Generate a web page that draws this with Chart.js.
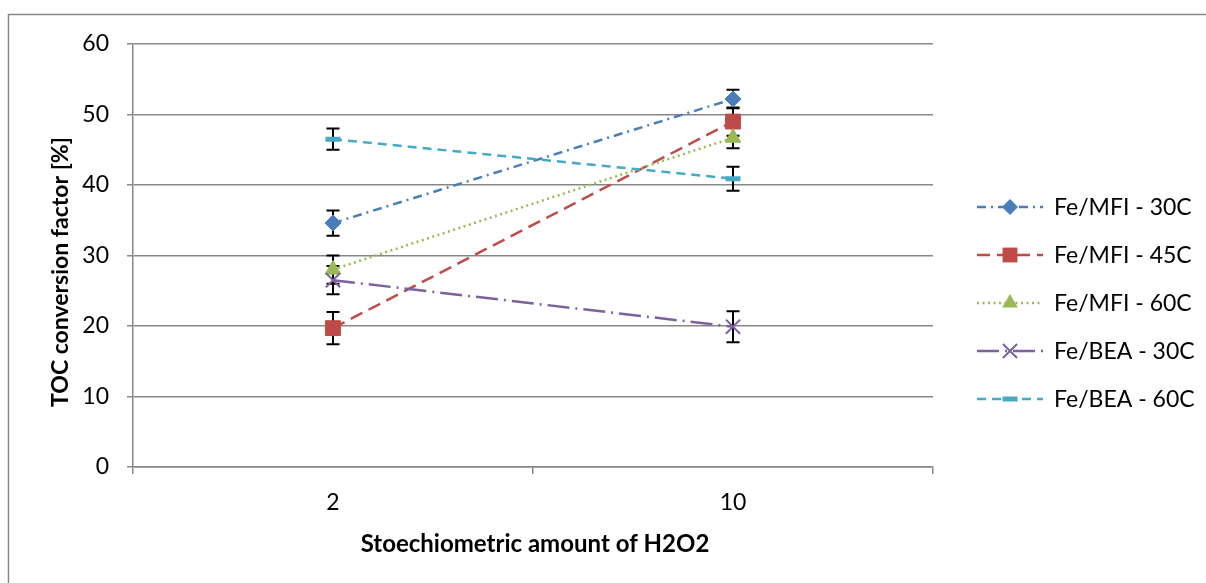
<!DOCTYPE html>
<html>
<head>
<meta charset="utf-8">
<title>TOC conversion</title>
<script src="https://cdn.jsdelivr.net/npm/chart.js@4/dist/chart.umd.min.js"></script>
<style>
  html, body { margin: 0; padding: 0; background: #fff; }
  .c-chart { position: relative; width: 1206px; height: 583px; }
</style>
</head>
<body>
<div class="c-chart"><canvas id="myChart" width="1206" height="583"></canvas></div>
<script>
'use strict';

const categories = ['2', '10'];
const seriesNames = ['Fe/MFI - 30C', 'Fe/MFI - 45C', 'Fe/MFI - 60C', 'Fe/BEA - 30C', 'Fe/BEA - 60C'];
const mfi30 = [34.6, 52.2];
const mfi45 = [19.7, 49.0];
const mfi60 = [28.0, 46.7];
const bea30 = [26.5, 19.9];
const bea60 = [46.5, 40.9];
const mfi30Err = [1.8, 1.3];
const mfi45Err = [2.3, 2.0];
const mfi60Err = [2.0, 1.5];
const bea30Err = [2.0, 2.2];
const bea60Err = [1.5, 1.7];
const yTicks = [0, 10, 20, 30, 40, 50, 60];

const fontFamily = 'Lato, "DejaVu Sans", sans-serif';
const gridGrey = '#878787';

const styles = [
  { color: '#4a7ebb', dash: [9, 5, 2, 5], point: 'rectRot', radius: 8, pointWidth: 1 },
  { color: '#be4b48', dash: [13, 7], point: 'rect', radius: 10.5, pointWidth: 1 },
  { color: '#98b954', dash: [2, 3.5], point: 'triangle', radius: 9, pointWidth: 1 },
  { color: '#7d60a0', dash: [22, 6, 2, 6], point: 'crossRot', radius: 10, pointWidth: 2 },
  { color: '#46aac5', dash: [9, 6], point: 'line', radius: 7.5, pointWidth: 5 }
];

// error bars: black whisker with caps, drawn under the lines and markers
const errorBars = {
  id: 'errorBars',
  beforeDatasetsDraw: function(chart) {
    const ctx = chart.ctx;
    const yScale = chart.scales.y;
    ctx.save();
    ctx.strokeStyle = '#000';
    ctx.lineWidth = 2;
    ctx.setLineDash([]);
    chart.data.datasets.forEach(function(ds, i) {
      const meta = chart.getDatasetMeta(i);
      meta.data.forEach(function(pt, j) {
        const v = ds.data[j];
        const e = ds.errors[j];
        const top = yScale.getPixelForValue(v + e);
        const bottom = yScale.getPixelForValue(v - e);
        ctx.beginPath();
        ctx.moveTo(pt.x, top);
        ctx.lineTo(pt.x, bottom);
        ctx.moveTo(pt.x - 6.5, top);
        ctx.lineTo(pt.x + 6.5, top);
        ctx.moveTo(pt.x - 6.5, bottom);
        ctx.lineTo(pt.x + 6.5, bottom);
        ctx.stroke();
      });
    });
    ctx.restore();
  }
};

const drawMarker = function(ctx, style, x, y) {
  const r = style.radius;
  ctx.save();
  ctx.setLineDash([]);
  ctx.fillStyle = style.color;
  ctx.strokeStyle = style.color;
  ctx.lineWidth = style.pointWidth;
  ctx.beginPath();
  if (style.point === 'rectRot') {
    ctx.moveTo(x, y - r);
    ctx.lineTo(x + r, y);
    ctx.lineTo(x, y + r);
    ctx.lineTo(x - r, y);
    ctx.closePath();
    ctx.fill();
  } else if (style.point === 'rect') {
    const s = r * Math.SQRT1_2;
    ctx.rect(x - s, y - s, 2 * s, 2 * s);
    ctx.fill();
  } else if (style.point === 'triangle') {
    ctx.moveTo(x, y - r);
    ctx.lineTo(x + r * 0.866, y + r * 0.5);
    ctx.lineTo(x - r * 0.866, y + r * 0.5);
    ctx.closePath();
    ctx.fill();
  } else if (style.point === 'crossRot') {
    const s = r * Math.SQRT1_2;
    ctx.moveTo(x - s, y - s);
    ctx.lineTo(x + s, y + s);
    ctx.moveTo(x - s, y + s);
    ctx.lineTo(x + s, y - s);
    ctx.stroke();
  } else {
    ctx.moveTo(x - r, y);
    ctx.lineTo(x + r, y);
    ctx.stroke();
  }
  ctx.restore();
};

// outer frame, legend on the right and both axis titles
const decorations = {
  id: 'decorations',
  beforeDraw: function(chart) {
    const ctx = chart.ctx;
    ctx.save();
    ctx.fillStyle = '#fff';
    ctx.fillRect(0, 0, chart.width, chart.height);
    ctx.strokeStyle = gridGrey;
    ctx.lineWidth = 1.5;
    ctx.strokeRect(8.5, 14.5, 1400, 800);
    ctx.restore();
  },
  afterDraw: function(chart) {
    const ctx = chart.ctx;
    ctx.save();
    chart.data.datasets.forEach(function(ds, i) {
      const style = styles[i];
      const y = 207 + i * 48;
      ctx.strokeStyle = style.color;
      ctx.lineWidth = 2.5;
      ctx.setLineDash(style.dash);
      ctx.beginPath();
      ctx.moveTo(977, y);
      ctx.lineTo(1043, y);
      ctx.stroke();
      drawMarker(ctx, style, 1010, y);
      ctx.setLineDash([]);
      ctx.fillStyle = '#000';
      ctx.font = `23px ${fontFamily}`;
      ctx.textAlign = 'left';
      ctx.textBaseline = 'middle';
      ctx.fillText(ds.label, 1054, y + 1);
    });

    ctx.textAlign = 'center';
    ctx.textBaseline = 'middle';
    ctx.fillStyle = '#000';
    ctx.font = `bold 24px ${fontFamily}`;
    ctx.fillText('Stoechiometric amount of H2O2', 535, 544);

    ctx.font = `bold 23px ${fontFamily}`;
    ctx.translate(61, 272);
    ctx.rotate(-Math.PI / 2);
    ctx.fillText('TOC conversion factor [%]', 0, 0);
    ctx.restore();
  }
};

const init = function() {
  displayChart();
};

const displayChart = function() {
  const values = [mfi30, mfi45, mfi60, bea30, bea60];
  const errors = [mfi30Err, mfi45Err, mfi60Err, bea30Err, bea60Err];
  const datasets = values.map(function(data, i) {
    const s = styles[i];
    return {
      label: seriesNames[i],
      data: data,
      errors: errors[i],
      order: values.length - i,
      borderColor: s.color,
      backgroundColor: s.color,
      borderWidth: 2.5,
      borderDash: s.dash,
      pointStyle: s.point,
      pointRadius: s.radius,
      pointHoverRadius: s.radius,
      pointBorderWidth: s.pointWidth,
      pointBorderColor: s.color,
      pointBackgroundColor: s.color,
      tension: 0,
      fill: false
    };
  });

  const ctx = document.getElementById('myChart');
  new Chart(ctx, {
    type: 'line',
    data: { labels: categories, datasets: datasets },
    options: {
      responsive: false,
      animation: false,
      events: [],
      layout: { padding: { top: 44, right: 273, left: 0, bottom: 0 } },
      plugins: {
        legend: { display: false },
        tooltip: { enabled: false },
        title: { display: false }
      },
      scales: {
        x: {
          offset: true,
          grid: { offset: true, drawOnChartArea: false, color: gridGrey, lineWidth: 1.5, tickLength: 7 },
          border: { color: gridGrey, width: 1.5 },
          ticks: { color: '#000', padding: 15, font: { family: fontFamily, size: 23 } },
          afterFit: function(scale) { scale.height = 116; }
        },
        y: {
          min: 0,
          max: 60,
          afterBuildTicks: function(scale) {
            scale.ticks = yTicks.map(function(v) { return { value: v }; });
          },
          grid: { color: gridGrey, lineWidth: 1.5, tickLength: 6 },
          border: { color: gridGrey, width: 1.5 },
          ticks: { color: '#000', padding: 18, font: { family: fontFamily, size: 23 } },
          afterFit: function(scale) { scale.width = 133; }
        }
      }
    },
    plugins: [errorBars, decorations]
  });
};

document.addEventListener('DOMContentLoaded', function() {
  init();
});
</script>
</body>
</html>
